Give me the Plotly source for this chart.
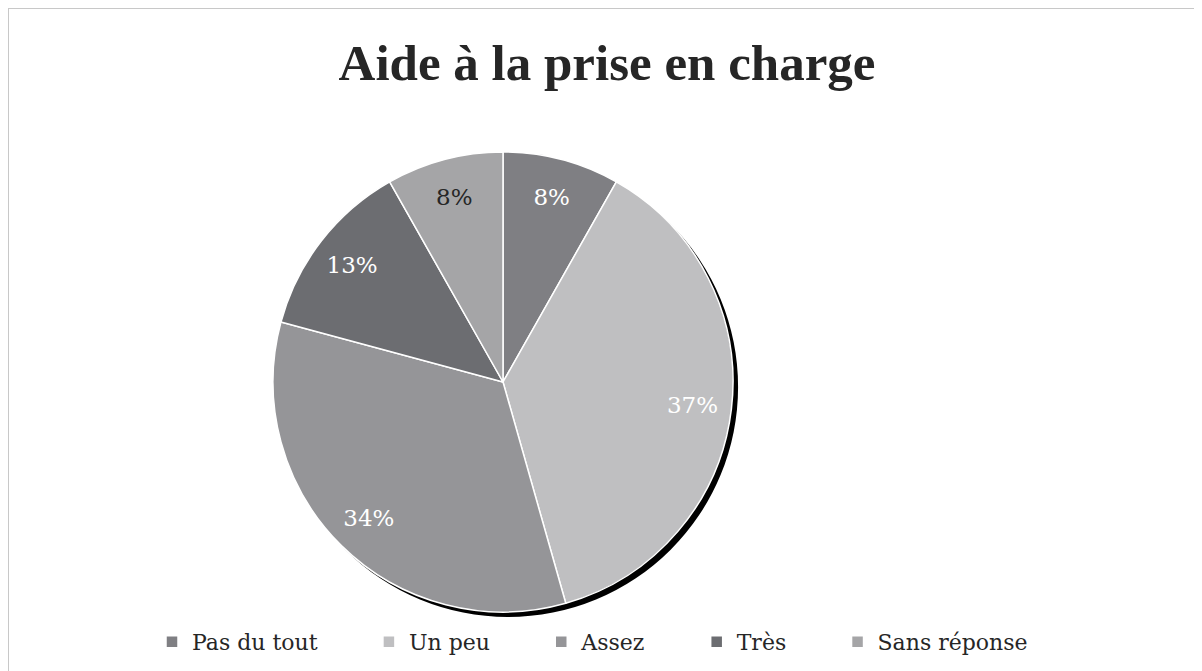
import plotly.graph_objects as go

# Données
categories = ["Pas du tout", "Un peu", "Assez", "Très", "Sans réponse"]
valeurs = [8.2, 37.4, 33.6, 12.6, 8.2]
couleurs = ["#7f7f83", "#bfbfc1", "#959598", "#6c6d71", "#a5a5a7"]
couleurs_texte = ["white", "white", "white", "white", "#262626"]

# espacement de la légende (espaces insécables + fines après chaque libellé)
pad_nbsp = [6, 6, 6, 6, 0]
pad_fin = [1, 1, 1, 1, 0]
libelles = [c + "\u00a0" * n + "\u2009" * f for c, n, f in zip(categories, pad_nbsp, pad_fin)]

# la page ajoute 8 px de marge autour du graphique
OFF = 8
W, H = 1202 - OFF, 671 - OFF

def px_dom(x0, x1, y0, y1):
    return dict(x=[(x0 - OFF) / W, (x1 - OFF) / W], y=[1 - (y1 - OFF) / H, 1 - (y0 - OFF) / H])

fig = go.Figure()

# ombre du camembert
fig.add_trace(go.Pie(
    values=[1], labels=["ombre"], marker=dict(colors=["black"]),
    textinfo="none", hoverinfo="skip", showlegend=False, sort=False,
    domain=px_dom(278, 738, 157, 617),
))

# camembert
fig.add_trace(go.Pie(
    labels=libelles, values=valeurs, sort=False, direction="clockwise",
    rotation=0, textinfo="none",
    marker=dict(colors=couleurs, line=dict(color="white", width=1.5)),
    domain=px_dom(273, 733, 152, 612),
))

# étiquettes (anneau transparent pour les placer vers l'extérieur)
fig.add_trace(go.Pie(
    labels=libelles, values=valeurs, sort=False, direction="clockwise",
    rotation=0, hole=0.66, showlegend=False, hoverinfo="skip",
    marker=dict(colors=["rgba(0,0,0,0)"] * 5, line=dict(width=0)),
    texttemplate="%{percent:.0%}", textposition="inside",
    insidetextorientation="horizontal",
    textfont=dict(family="DejaVu Serif", size=23, color=couleurs_texte),
    domain=px_dom(273, 733, 152, 612),
))

fig.update_layout(
    width=W, height=H,
    margin=dict(l=0, r=0, t=0, b=0),
    paper_bgcolor="white",
    title=dict(text="<b>Aide à la prise en charge</b>", x=(607 - OFF) / W, xanchor="center",
               y=1 - (62 - OFF) / H, yanchor="middle",
               font=dict(family="Liberation Serif", size=51, color="#262626")),
    legend=dict(orientation="h", x=(152 - OFF) / W, xanchor="left", y=1 - (642 - OFF) / H,
                yanchor="middle",
                font=dict(family="DejaVu Serif", size=22, color="#262626"),
                traceorder="normal"),
    shapes=[
        dict(type="line", xref="paper", yref="paper", x0=0, x1=1, y0=1, y1=1,
             line=dict(color="#c8c8c8", width=2)),
        dict(type="line", xref="paper", yref="paper", x0=0, x1=0, y0=0, y1=1,
             line=dict(color="#c8c8c8", width=2)),
    ],
)

fig.write_html("out.html")
